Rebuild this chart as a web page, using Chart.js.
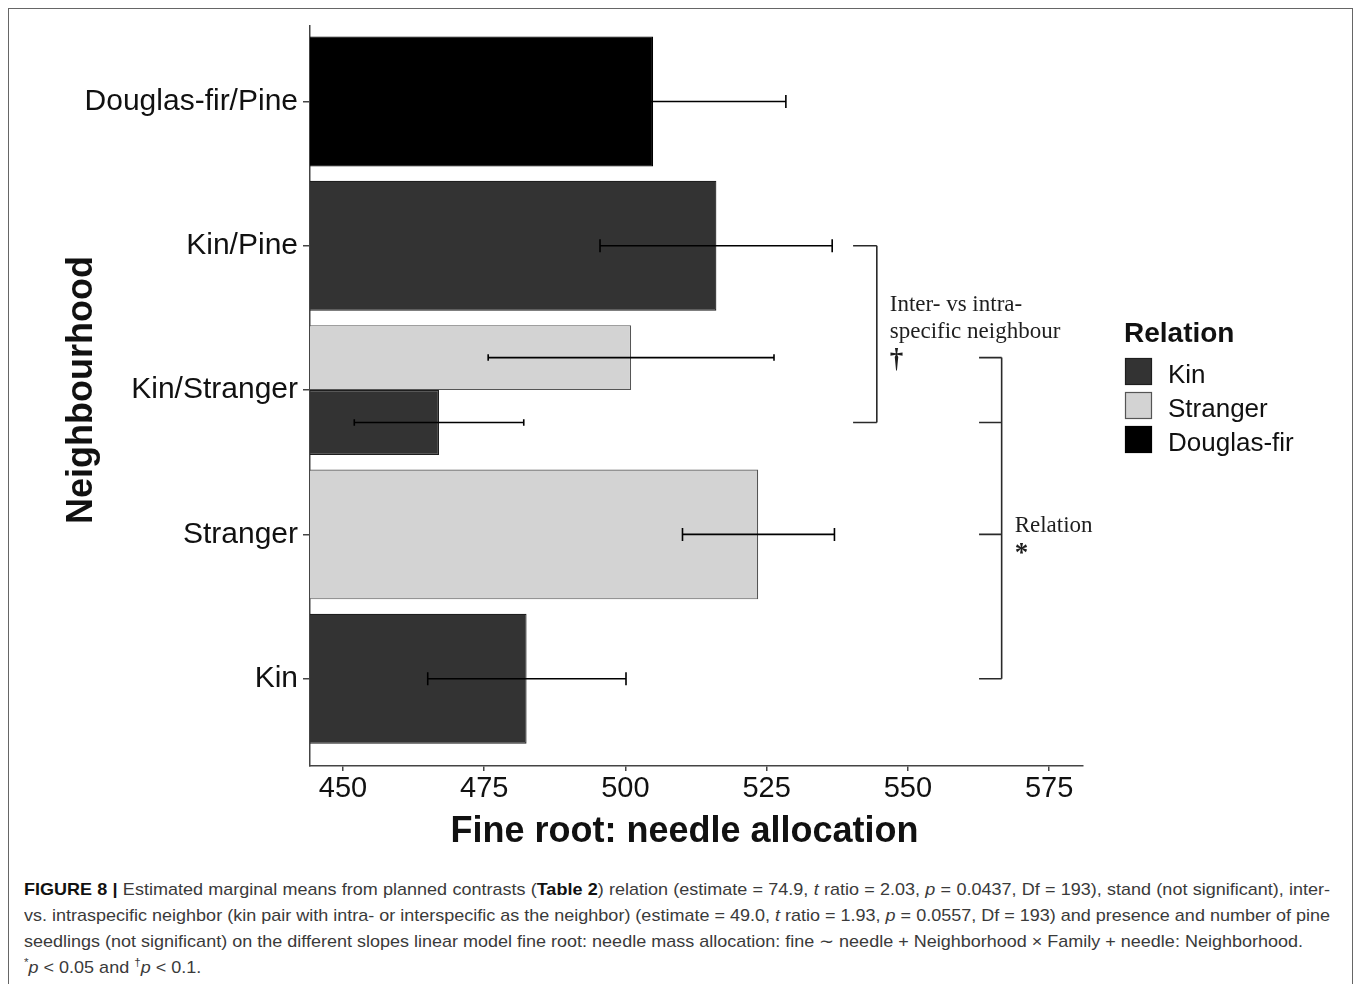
<!DOCTYPE html>
<html>
<head>
<meta charset="utf-8">
<script src="https://cdn.jsdelivr.net/npm/chart.js@4.4.1/dist/chart.umd.min.js"></script>
<style>
  html, body { margin: 0; padding: 0; background: #fff; }
  body { width: 1358px; height: 984px; position: relative; overflow: hidden; }
  #frame { position: absolute; left: 8px; top: 8px; width: 1345px; height: 1000px;
           border: 1.5px solid #666; border-bottom: none; box-sizing: border-box; }
  #plot { position: absolute; left: 0; top: 0; }
  #caption { position: absolute; left: 24px; top: 877px; font-family: "Liberation Sans", Arial, sans-serif;
             font-size: 17px; line-height: 26px; color: #3a3a3a; }
  #caption .ln { display: block; white-space: nowrap; transform-origin: 0 50%; }
  #caption b { color: #111; }
  #caption sup { font-size: 11px; line-height: 0; }
</style>
</head>
<body>
<div id="frame"></div>
<canvas id="plot" width="1358" height="860"></canvas>
<div id="caption">
  <div class="ln just"><span><b>FIGURE 8 |</b> Estimated marginal means from planned contrasts (<b>Table 2</b>) relation (estimate = 74.9, <i>t</i> ratio = 2.03, <i>p</i> = 0.0437, Df = 193), stand (not significant), inter-</span></div>
  <div class="ln just"><span>vs. intraspecific neighbor (kin pair with intra- or interspecific as the neighbor) (estimate = 49.0, <i>t</i> ratio = 1.93, <i>p</i> = 0.0557, Df = 193) and presence and number of pine</span></div>
  <div class="ln ref"><span>seedlings (not significant) on the different slopes linear model fine root: needle mass allocation: fine ∼ needle + Neighborhood × Family + needle: Neighborhood.</span></div>
  <div class="ln"><span><sup>*</sup><i>p</i> &lt; 0.05 and <sup>†</sup><i>p</i> &lt; 0.1.</span></div>
</div>
<script>
// Neighbourhood categories, top to bottom
const categories = ['Douglas-fir/Pine', 'Kin/Pine', 'Kin/Stranger', 'Stranger', 'Kin'];
const relationOrder = ['Kin', 'Stranger', 'Douglas-fir'];

// Estimated marginal means and error bar limits per relation (null = not present)
const kinMean      = [null, 516.1, 467.0, null, 482.5];
const kinLow       = [null, 495.5, 452.0, null, 465.0];
const kinHigh      = [null, 536.6, 482.0, null, 500.1];

const strangerMean = [null, null, 501.0, 523.5, null];
const strangerLow  = [null, null, 475.7, 510.1, null];
const strangerHigh = [null, null, 526.3, 537.0, null];

const douglasMean  = [504.9, null, null, null, null];
const douglasLow   = [481.4, null, null, null, null];
const douglasHigh  = [528.4, null, null, null, null];

const xTicks = [450, 475, 500, 525, 550, 575];

const xTitle = 'Fine root: needle allocation';
const yTitle = 'Neighbourhood';
const legendTitle = 'Relation';

const SANS = '"Liberation Sans", Arial, sans-serif';
const SERIF = '"Liberation Serif", "Times New Roman", serif';

const toPoints = means => means.map((v, i) => ({ y: i, x: v }));

// Stranger comes first so it sits above Kin inside the dodged Kin/Stranger group
const datasets = [
  { label: 'Stranger', data: toPoints(strangerMean), errLow: strangerLow, errHigh: strangerHigh,
    backgroundColor: '#d3d3d3', borderColor: '#555555' },
  { label: 'Kin', data: toPoints(kinMean), errLow: kinLow, errHigh: kinHigh,
    backgroundColor: '#333333', borderColor: '#1e1e1e' },
  { label: 'Douglas-fir', data: toPoints(douglasMean), errLow: douglasLow, errHigh: douglasHigh,
    backgroundColor: '#000000', borderColor: '#000000' }
];
datasets.forEach(d => { d.borderWidth = 1.2; d.skipNull = true; d.categoryPercentage = 0.9; d.barPercentage = 1.0; });

// Significance brackets (x in data units, y in category positions)
const brackets = [
  { x0: 540.3, x1: 544.5, ys: [1, 2.225] },
  { x0: 562.6, x1: 566.6, ys: [1.775, 2.225, 3, 4] }
];
// each note line: [text, bold?]
const bracketNotes = [
  { x: 546.8, y: 1.452, lines: [['Inter- vs intra-', false], ['specific neighbour', false], ['†', true]] },
  { x: 568.9, y: 2.985, lines: [['Relation', false], ['*', true]] }
];

const errorBars = {
  id: 'errorBars',
  afterDatasetsDraw(chart) {
    const ctx = chart.ctx, xs = chart.scales.x;
    ctx.save();
    ctx.strokeStyle = '#000';
    ctx.lineWidth = 1.6;
    chart.data.datasets.forEach((ds, di) => {
      const meta = chart.getDatasetMeta(di);
      ds.errLow.forEach((lo, i) => {
        if (lo == null) return;
        const bar = meta.data[i];
        const y = bar.y, cap = bar.height * 0.1 / 2;
        const xa = xs.getPixelForValue(lo), xb = xs.getPixelForValue(ds.errHigh[i]);
        ctx.beginPath();
        ctx.moveTo(xa, y); ctx.lineTo(xb, y);
        ctx.moveTo(xa, y - cap); ctx.lineTo(xa, y + cap);
        ctx.moveTo(xb, y - cap); ctx.lineTo(xb, y + cap);
        ctx.stroke();
      });
    });
    ctx.restore();
  }
};

const decorations = {
  id: 'decorations',
  afterDraw(chart) {
    const ctx = chart.ctx, xs = chart.scales.x, ys = chart.scales.y, area = chart.chartArea;
    ctx.save();

    // brackets
    ctx.strokeStyle = '#2a2a2a';
    ctx.lineWidth = 1.6;
    brackets.forEach(b => {
      const x0 = xs.getPixelForValue(b.x0), x1 = xs.getPixelForValue(b.x1);
      const py = b.ys.map(v => ys.getPixelForValue(v));
      ctx.beginPath();
      ctx.moveTo(x1, Math.min(...py)); ctx.lineTo(x1, Math.max(...py));
      py.forEach(p => { ctx.moveTo(x0, p); ctx.lineTo(x1, p); });
      ctx.stroke();
    });
    ctx.fillStyle = '#1e1e1e';
    ctx.textAlign = 'left';
    ctx.textBaseline = 'alphabetic';
    bracketNotes.forEach(n => {
      const x = xs.getPixelForValue(n.x), y = ys.getPixelForValue(n.y);
      n.lines.forEach(([t, bold], k) => {
        ctx.font = bold ? 'bold 27px ' + SERIF : '23px ' + SERIF;
        ctx.fillText(t, x, y + k * 27 + (bold ? 2 : 0));
      });
    });

    // axis titles
    ctx.fillStyle = '#111';
    ctx.font = 'bold 36px ' + SANS;
    ctx.textAlign = 'center';
    ctx.fillText(xTitle, (area.left + area.right) / 2 - 12, area.bottom + 76);
    ctx.save();
    ctx.translate(92, (area.top + area.bottom) / 2 - 6);
    ctx.rotate(-Math.PI / 2);
    ctx.fillText(yTitle, 0, 0);
    ctx.restore();

    // legend
    const lx = 1125, ly = 358, box = 27, step = 34;
    ctx.textAlign = 'left';
    ctx.font = 'bold 28px ' + SANS;
    ctx.fillText(legendTitle, lx - 1, ly - 16);
    ctx.font = '26px ' + SANS;
    relationOrder.forEach((name, k) => {
      const ds = chart.data.datasets.find(d => d.label === name);
      const top = ly + k * step;
      ctx.fillStyle = ds.backgroundColor;
      ctx.fillRect(lx, top, box, box);
      ctx.strokeStyle = ds.borderColor;
      ctx.lineWidth = 1.2;
      ctx.strokeRect(lx + 0.5, top + 0.5, box - 1, box - 1);
      ctx.fillStyle = '#111';
      ctx.fillText(name, lx + 43, top + 25);
    });
    ctx.restore();
  }
};

new Chart(document.getElementById('plot'), {
  type: 'bar',
  data: { datasets },
  options: {
    indexAxis: 'y',
    responsive: false,
    animation: false,
    devicePixelRatio: 1,
    layout: { padding: { left: 0, right: 275, top: 26, bottom: 0 } },
    plugins: { legend: { display: false }, tooltip: { enabled: false } },
    scales: {
      x: {
        type: 'linear',
        position: 'bottom',
        min: 444.16,
        max: 581.0,
        afterBuildTicks: s => { s.ticks = xTicks.map(v => ({ value: v })); },
        afterFit: s => { s.height = 94; },
        grid: { drawOnChartArea: false, drawTicks: true, tickLength: 5, color: '#444', lineWidth: 1.5 },
        border: { display: true, color: '#444', width: 1.5 },
        ticks: { font: { family: SANS, size: 29 }, color: '#111', padding: 1, maxRotation: 0 }
      },
      y: {
        type: 'linear',
        reverse: true,
        offset: false,
        min: -0.523,
        max: 4.605,
        afterBuildTicks: s => { s.ticks = categories.map((c, i) => ({ value: i })); },
        afterFit: s => { s.width = 310; },
        grid: { offset: false, drawOnChartArea: false, drawTicks: true, tickLength: 7, color: '#444', lineWidth: 1.5 },
        border: { display: true, color: '#444', width: 1.5 },
        ticks: { font: { family: SANS, size: 30 }, color: '#111', padding: 5,
                 callback: v => categories[v] }
      }
    }
  },
  plugins: [errorBars, decorations]
});

// Caption: fit lines to the text block width (first two lines justified)
(function fitCaption() {
  const lines = Array.from(document.querySelectorAll('#caption .ln'));
  const full = 1306, refWidth = 1281;
  const widths = lines.map(l => l.firstElementChild.getBoundingClientRect().width);
  const refIdx = lines.findIndex(l => l.classList.contains('ref'));
  let k = refWidth / widths[refIdx];
  lines.forEach((l, i) => { if (l.classList.contains('just')) k = Math.min(k, full / widths[i]); });
  lines.forEach(l => {
    l.style.transform = 'scaleX(' + k + ')';
    if (l.classList.contains('just')) {
      l.style.whiteSpace = 'normal';
      l.style.width = (full / k) + 'px';
      l.style.textAlign = 'justify';
      l.style.textAlignLast = 'justify';
    }
  });
})();
</script>
</body>
</html>
